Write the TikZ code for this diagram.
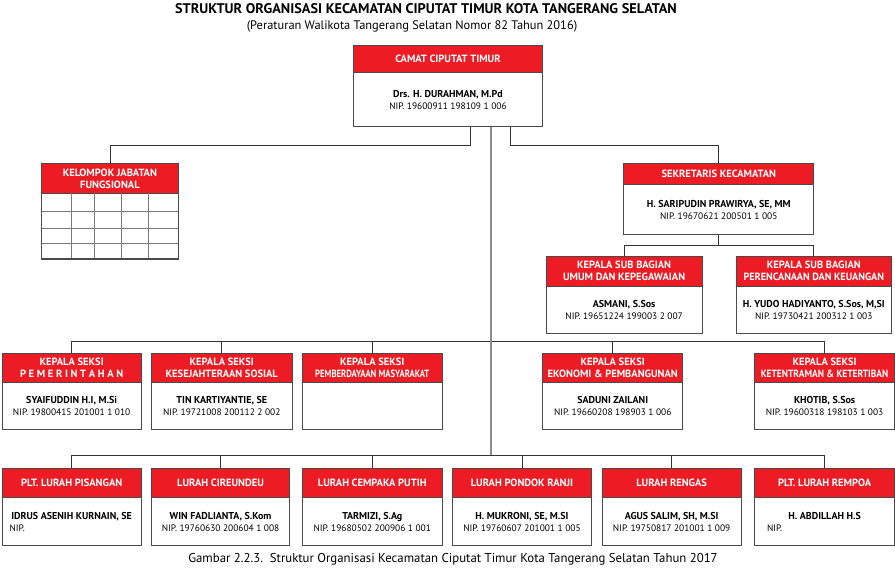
\documentclass[tikz,border=0pt]{standalone}
\usepackage{fontspec}
\usepackage{graphicx}
\setmainfont{PT Sans}
\usetikzlibrary{calc}
\definecolor{ired}{HTML}{ED1C24}
\definecolor{bordg}{HTML}{4A4A4A}
\definecolor{lineg}{HTML}{333333}
\definecolor{trunkg}{HTML}{8C8C8C}
\definecolor{gridg}{HTML}{7A7A7A}
\newcommand{\hdf}{\fontsize{10.5}{12}\bfseries\selectfont}
\newcommand{\nmf}{\fontsize{10}{12}\bfseries\selectfont}
\newcommand{\nipf}{\fontsize{9.4}{12}\selectfont}
\tikzset{
  obody/.style={draw=bordg, line width=0.9pt, fill=white, inner sep=0pt, rectangle},
  ohead/.style={draw=bordg, line width=0.9pt, fill=ired, text=white, font=\hdf, align=center, inner sep=0pt, rectangle},
  otext/.style={align=center, font=\nipf, inner sep=0pt},
  conn/.style={draw=lineg, line width=0.8pt},
  trunk/.style={draw=trunkg, line width=1.5pt},
  gridl/.style={draw=gridg, line width=0.8pt},
}
\newcommand{\obox}[8]{%
  \node[obody, minimum width=#4pt, minimum height=#5pt, anchor=north west] (#1) at (#2,#3) {};
  \node[ohead, minimum width=#4pt, minimum height=#6pt, anchor=north west] (#1h) at (#2,#3) {#7};
  \node[otext] (#1t) at ($(#1h.south)!0.5!(#1.south)$) {#8};
}
\begin{document}
\begin{tikzpicture}[x=1pt,y=-1pt]
\useasboundingbox (0,0) rectangle (895,571);
% titles
\node[anchor=base, inner sep=0pt, font=\fontsize{14}{16}\bfseries\selectfont] (title) at (426,13)
  {\scalebox{1.02}[1]{STRUKTUR ORGANISASI KECAMATAN CIPUTAT TIMUR KOTA TANGERANG SELATAN}};
\node[anchor=base, inner sep=0pt, font=\fontsize{12.4}{14}\selectfont] (subtitle) at (412,29.5)
  {(Peraturan Walikota Tangerang Selatan Nomor 82 Tahun 2016)};
\node[anchor=base, inner sep=0pt, font=\fontsize{12.8}{14}\selectfont] (caption) at (453,562)
  {Gambar 2.2.3.\ \ Struktur Organisasi Kecamatan Ciputat Timur Kota Tangerang Selatan Tahun 2017};

% boxes
\obox{camat}{353}{45}{189}{81}{27}{CAMAT CIPUTAT TIMUR}{{\nmf Drs. H. DURAHMAN, M.Pd}\\NIP. 19600911 198109 1 006}
\obox{sekre}{623.3}{163.3}{190}{70.7}{21}{SEKRETARIS KECAMATAN}{{\nmf H. SARIPUDIN PRAWIRYA, SE, MM}\\NIP. 19670621 200501 1 005}
\obox{subA}{545.7}{256}{156}{76.7}{29.7}{KEPALA SUB BAGIAN\\UMUM DAN KEPEGAWAIAN}{{\nmf ASMANI, S.Sos}\\NIP. 19651224 199003 2 007}
\obox{subB}{735.7}{256}{155.3}{76.7}{29.7}{KEPALA SUB BAGIAN\\\scalebox{0.97}[1]{PERENCANAAN DAN KEUANGAN}}{{\nmf H. YUDO HADIYANTO, S.Sos, M,SI}\\NIP. 19730421 200312 1 003}

% kelompok jabatan fungsional
\node[obody, minimum width=136.4pt, minimum height=95pt, anchor=north west] (kjf) at (41.3,163.3) {};
\node[ohead, minimum width=136.4pt, minimum height=29.4pt, anchor=north west] (kjfh) at (41.3,163.3) {KELOMPOK JABATAN\\FUNGSIONAL};
\foreach \yy in {211,228.7,243.7} \draw[gridl] (41.3,\yy) -- (177.7,\yy);
\foreach \xx in {71.3,94.3,121.3,148.3} \draw[gridl] (\xx,192.7) -- (\xx,258.3);
\draw[draw=bordg, line width=0.9pt] (kjf.north west) rectangle (kjf.south east);

% seksi row
\obox{sk1}{1.7}{352.7}{139}{76.6}{29}{KEPALA SEKSI\\P E M E R I N T A H A N}{{\nmf SYAIFUDDIN H.I, M.Si}\\NIP. 19800415 201001 1 010}
\obox{sk2}{151}{352.7}{140.7}{76.6}{29}{KEPALA SEKSI\\KESEJAHTERAAN SOSIAL}{{\nmf TIN KARTIYANTIE, SE}\\NIP. 19721008 200112 2 002}
\obox{sk3}{301.7}{352.7}{140.3}{76.6}{29}{KEPALA SEKSI\\\scalebox{0.82}[1]{PEMBERDAYAAN MASYARAKAT}}{}
\obox{sk4}{542.3}{352.7}{140}{76.6}{29}{KEPALA SEKSI\\EKONOMI \& PEMBANGUNAN}{{\nmf SADUNI ZAILANI}\\NIP. 19660208 198903 1 006}
\obox{sk5}{754}{352.7}{140.3}{76.6}{29}{KEPALA SEKSI\\\scalebox{0.9}[1]{KETENTRAMAN \& KETERTIBAN}}{{\nmf KHOTIB, S.Sos}\\NIP. 19600318 198103 1 003}

% lurah row
\obox{lr1}{1.7}{468.3}{139}{76.7}{28.4}{PLT. LURAH PISANGAN}{{\nmf IDRUS ASENIH KURNAIN, SE}\\\makebox[124pt][l]{NIP.}}
\obox{lr2}{151}{468.3}{138.3}{76.7}{28.4}{LURAH CIREUNDEU}{{\nmf WIN FADLIANTA, S.Kom}\\NIP. 19760630 200604 1 008}
\obox{lr3}{301.7}{468.3}{140.3}{76.7}{28.4}{LURAH CEMPAKA PUTIH}{{\nmf TARMIZI, S.Ag}\\NIP. 19680502 200906 1 001}
\obox{lr4}{452.3}{468.3}{138.4}{76.7}{28.4}{LURAH PONDOK RANJI}{{\nmf H. MUKRONI, SE, M.SI}\\NIP. 19760607 201001 1 005}
\obox{lr5}{601.7}{468.3}{139}{76.7}{28.4}{LURAH RENGAS}{{\nmf AGUS SALIM, SH, M.SI}\\NIP. 19750817 201001 1 009}
\obox{lr6}{754}{468.3}{140.3}{76.7}{28.4}{PLT. LURAH REMPOA}{{\nmf H. ABDILLAH H.S}\\\makebox[115pt][l]{NIP.}}

% connectors
\coordinate (ttop) at ([xshift=138pt]camat.south west);
\coordinate (sbus) at (ttop |- 0,341.7);
\coordinate (lbus) at (ttop |- 0,455.3);
\draw[conn] ([xshift=117.7pt]camat.south west) |- ([yshift=17.6pt]kjf.north) -- (kjf.north);
\draw[conn] ([xshift=157.7pt]camat.south west) |- ([yshift=17.6pt]sekre.north) -- (sekre.north);
\draw[conn] (sekre.south) -- ++(0,10) coordinate (sbranch);
\draw[conn] (sbranch) -| (subA.north);
\draw[conn] (sbranch) -| (subB.north);
\foreach \b in {sk1,sk2,sk3,sk4,sk5} \draw[conn] (sbus) -| (\b.north);
\foreach \b in {lr1,lr2,lr3,lr4,lr5,lr6} \draw[conn] (lbus) -| (\b.north);
\draw[trunk] (ttop) -- (lbus);
\end{tikzpicture}
\end{document}
